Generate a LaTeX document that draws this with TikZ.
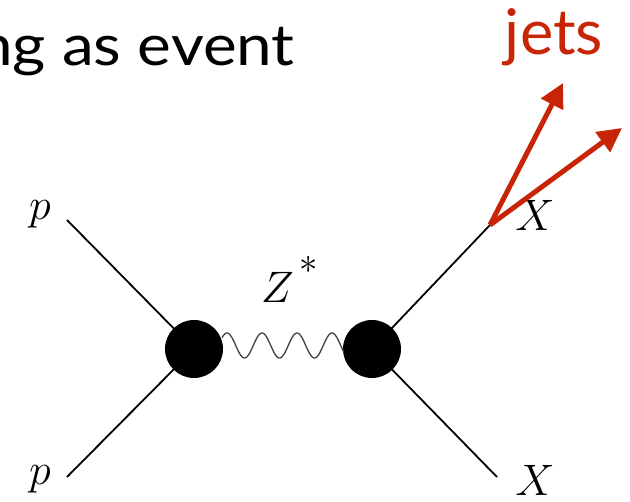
\documentclass[tikz,border=0pt]{standalone}
\usepackage{fontspec}
\newfontfamily\gill{Lato}
\usetikzlibrary{arrows.meta}
\definecolor{jetred}{RGB}{200,37,6}
\newcommand{\feynlab}[1]{\scalebox{1.77}{\Huge$#1$}}
\tikzset{
  leg/.style={line width=1.8pt, black},
  blob/.style={circle, fill=black, minimum size=58pt, inner sep=0pt},
  wave/.style={line width=1.3pt, black!75},
  jetarrow/.style={line width=5pt, jetred, -{Triangle[length=24pt,width=24pt]}},
  mlabel/.style={inner sep=0pt},
}
\begin{document}
\begin{tikzpicture}[x=1pt,y=-1pt]
\useasboundingbox (0,0) rectangle (630,502);
% title and jets label
\node[anchor=base east, inner sep=0pt, font=\gill\fontsize{57}{62}\selectfont] (title) at (295,66) {\scalebox{1.12}[1]{ng as event}};
\node[anchor=base, inner sep=0pt, text=jetred, font=\gill\fontsize{63}{68}\selectfont] (jets) at (554,55) {jets};
% blobs
\node[blob] (L) at (194,349) {};
\node[blob] (R) at (372,349) {};
% external points
\coordinate (pa) at (67,220);
\coordinate (pb) at (67,477);
\coordinate (xa) at (490,225);
\coordinate (xb) at (497,477);
% legs
\draw[leg] (pa) -- (L.center);
\draw[leg] (pb) -- (L.center);
\draw[leg] (R.center) -- (xa);
\draw[leg] (R.center) -- (xb);
% propagator
\draw[wave] plot[domain=222:344, samples=200] (\x, {345.5 - 12.5*cos(10.2857*(\x-227))});
% labels
\node[mlabel] (lp1) at (40,214) {\feynlab{p}};
\node[mlabel] (lp2) at (40,479) {\feynlab{p}};
\node[mlabel] (lx1) at (535,215) {\feynlab{X}};
\node[mlabel] (lx2) at (535,480) {\feynlab{X}};
\node[mlabel, anchor=base west] (lz) at (261,303) {\feynlab{Z^{\,\raisebox{0.3em}{$\scriptstyle *$}}}};
% jets arrows
\coordinate (j1) at (563,83);
\coordinate (j2) at (622,128);
\draw[jetarrow] (xa) -- (j1);
\draw[jetarrow] (xa) -- (j2);
\end{tikzpicture}
\end{document}
